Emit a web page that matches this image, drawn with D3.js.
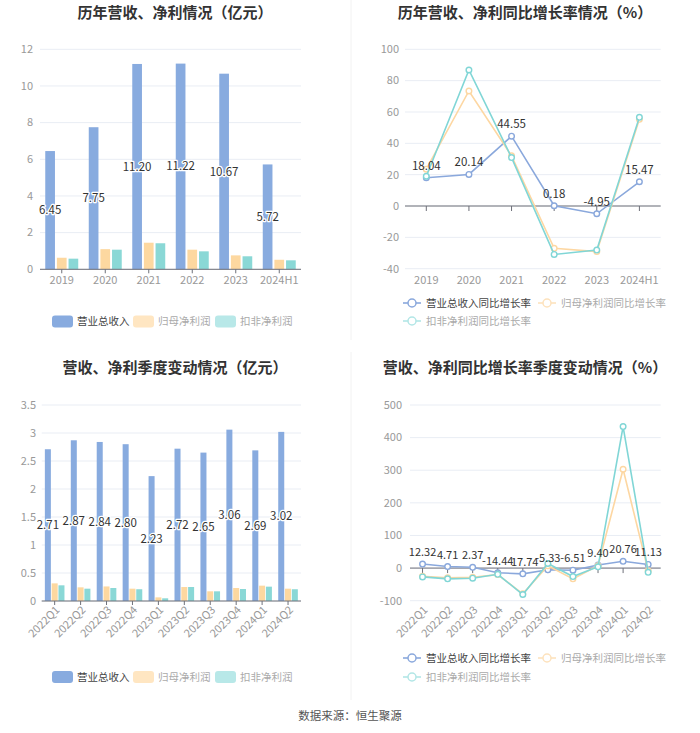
<!DOCTYPE html>
<html><head><meta charset="utf-8">
<script src="https://cdn.jsdelivr.net/npm/d3@7"></script>
<style>
html,body{margin:0;padding:0;background:#fff;}
svg{display:block;font-family:"Noto Sans CJK SC","Liberation Sans",sans-serif;}
</style></head>
<body>
<svg id="c" width="700" height="733"></svg>
<script>
// ---------- data ----------
const years = ["2019","2020","2021","2022","2023","2024H1"];
const revenue = [6.45,7.75,11.20,11.22,10.67,5.72];
const netProfit = [0.63,1.10,1.45,1.07,0.76,0.52];
const deductProfit = [0.58,1.07,1.42,0.98,0.71,0.49];
const yTicksA = [0,2,4,6,8,10,12];

const revGrowth = [18.04,20.14,44.55,0.18,-4.95,15.47];
const netGrowth = [23.5,73.4,32,-27,-29.1,55.3];
const deductGrowth = [19,86.8,30.9,-30.9,-28.1,56.6];
const yTicksB = [-40,-20,0,20,40,60,80,100];

const quarters = ["2022Q1","2022Q2","2022Q3","2022Q4","2023Q1","2023Q2","2023Q3","2023Q4","2024Q1","2024Q2"];
const qRevenue = [2.71,2.87,2.84,2.80,2.23,2.72,2.65,3.06,2.69,3.02];
const qNet = [0.315,0.244,0.26,0.22,0.065,0.25,0.173,0.232,0.274,0.22];
const qDeduct = [0.28,0.22,0.232,0.21,0.048,0.25,0.173,0.214,0.256,0.21];
const yTicksC = [0,0.5,1,1.5,2,2.5,3,3.5];

const qRevGrowth = [12.32,4.71,2.37,-14.44,-17.74,-5.33,-6.51,9.40,20.76,11.13];
const qNetGrowth = [-25,-30,-28,-20,-79,7,-33,7,303,-8];
const qDeductGrowth = [-27,-33,-31,-19,-81,14,-26,4,434,-13];
const yTicksD = [-100,0,100,200,300,400,500];

const barNames = ["营业总收入","归母净利润","扣非净利润"];
const lineNames = ["营业总收入同比增长率","归母净利润同比增长率","扣非净利润同比增长率"];
const titles = ["历年营收、净利情况（亿元）","历年营收、净利同比增长率情况（%）","营收、净利季度变动情况（亿元）","营收、净利同比增长率季度变动情况（%）"];
const source = "数据来源：恒生聚源";

// ---------- style ----------
const barColors = ["#88abdf","#fdd8a0","#8ad8d6"];
const lineColors = ["#8aa8dc","#fdd7a2","#80d6d6"];
const legBarColors = ["#88abdf","#ffe6c2","#b8e8e8"];
const legLineColors = ["#8aa8dc","#fde2bd","#b2e6e6"];
const legText = ["#444","#aaa","#aaa"];
const gridColor = "#e9edf4";
const tickText = "#999";
const fmtTick = t => String(t);
const fmtVal = v => v.toFixed(2);

const svg = d3.select("#c");

// dividers
svg.append("line").attr("x1",351).attr("x2",351).attr("y1",0).attr("y2",340).attr("stroke","#f2f2f2");
svg.append("line").attr("x1",351).attr("x2",351).attr("y1",352).attr("y2",700).attr("stroke","#f2f2f2");

// titles
[[175,18],[525,18],[175,373],[525,373]].forEach((p,i)=>{
  svg.append("text").attr("x",p[0]).attr("y",p[1]).attr("text-anchor","middle")
    .attr("font-size",15).attr("font-weight","bold").attr("fill","#333").text(titles[i]);
});
svg.append("text").attr("x",350).attr("y",720).attr("text-anchor","middle")
  .attr("font-size",11.5).attr("fill","#555").text(source);

function yGrid(g, y, ticks, x0, x1, labelX){
  ticks.forEach(t=>{
    g.append("line").attr("x1",x0).attr("x2",x1).attr("y1",y(t)).attr("y2",y(t)).attr("stroke",gridColor);
    g.append("text").attr("x",labelX).attr("y",y(t)).attr("dy","0.35em").attr("text-anchor","end")
      .attr("font-size",11).attr("fill",tickText).text(fmtTick(t));
  });
}

function xLabels(g, x, cats, yPos, rotate){
  cats.forEach(c=>{
    const cx = x(c)+x.bandwidth()/2;
    if(rotate){
      g.append("text").attr("transform",`translate(${cx+3},${yPos}) rotate(-45)`)
        .attr("text-anchor","end").attr("dy","0.35em").attr("font-size",11).attr("fill",tickText).text(c);
    } else {
      g.append("text").attr("x",cx).attr("y",yPos).attr("dy","0.35em").attr("text-anchor","middle")
        .attr("font-size",11).attr("fill",tickText).text(c);
    }
  });
}

function barChart(o){
  const g = svg.append("g");
  const x = d3.scaleBand().domain(o.cats).range([o.x0,o.x1]);
  const y = d3.scaleLinear().domain([0,o.max]).range([o.yb,o.yt]);
  yGrid(g,y,o.ticks,o.x0,o.x1,o.labelX);
  const bw = x.bandwidth()*o.bwr, step = bw*o.stepr;
  const series = o.series;
  const gw = bw + step*(series.length-1);
  series.forEach((s,si)=>{
    g.selectAll(null).data(s).enter().append("rect")
      .attr("x",(d,i)=>x(o.cats[i])+x.bandwidth()/2-gw/2+si*step)
      .attr("width",bw)
      .attr("y",d=>y(d)).attr("height",d=>y(0)-y(d))
      .attr("fill",barColors[si]);
  });
  g.append("line").attr("x1",o.x0).attr("x2",o.x1).attr("y1",y(0)).attr("y2",y(0)).attr("stroke","#6e7079");
  o.cats.forEach(c=>{
    const cx=x(c)+x.bandwidth()/2;
    g.append("line").attr("x1",cx).attr("x2",cx).attr("y1",y(0)).attr("y2",y(0)+4).attr("stroke","#6e7079");
  });
  series[0].forEach((d,i)=>{
    const cx = x(o.cats[i])+x.bandwidth()/2-gw/2+bw/2;
    g.append("text").attr("x",cx).attr("y",(y(d)+y(0))/2).attr("dy","0.35em").attr("text-anchor","middle")
      .attr("font-size",11.5).attr("fill","#333").attr("stroke","#fff").attr("stroke-width",2.5)
      .attr("paint-order","stroke").attr("stroke-linejoin","round").text(fmtVal(d));
  });
  xLabels(g,x,o.cats,o.xlY,o.rotate);
  o.legX.forEach((lx,i)=>{
    g.append("rect").attr("x",lx).attr("y",o.legY-6).attr("width",21).attr("height",12).attr("rx",3)
      .attr("fill",legBarColors[i]);
    g.append("text").attr("x",lx+25).attr("y",o.legY).attr("dy","0.35em").attr("font-size",10.5)
      .attr("fill",legText[i]).text(barNames[i]);
  });
}

function lineChart(o){
  const g = svg.append("g");
  const x = d3.scaleBand().domain(o.cats).range([o.x0,o.x1]);
  const y = d3.scaleLinear().domain([o.min,o.max]).range([o.yb,o.yt]);
  yGrid(g,y,o.ticks,o.x0,o.x1,o.labelX);
  g.append("line").attr("x1",o.x0).attr("x2",o.x1).attr("y1",y(0)).attr("y2",y(0)).attr("stroke","#6e7079");
  o.cats.forEach(c=>{
    const cx=x(c)+x.bandwidth()/2;
    g.append("line").attr("x1",cx).attr("x2",cx).attr("y1",y(0)).attr("y2",y(0)+5).attr("stroke","#6e7079");
  });
  const cxf = i=>x(o.cats[i])+x.bandwidth()/2;
  const line = d3.line().x((d,i)=>cxf(i)).y(d=>y(d));
  o.series.forEach((s,si)=>{
    g.append("path").attr("d",line(s)).attr("fill","none").attr("stroke",lineColors[si]).attr("stroke-width",1.6);
    s.forEach((d,i)=>{
      g.append("circle").attr("cx",cxf(i)).attr("cy",y(d)).attr("r",2.8).attr("fill","#fff")
        .attr("stroke",lineColors[si]).attr("stroke-width",1.4);
    });
  });
  o.series[0].forEach((d,i)=>{
    g.append("text").attr("x",cxf(i)).attr("y",y(d)-8).attr("text-anchor","middle")
      .attr("font-size",o.lblSize).attr("fill","#333").text(fmtVal(d));
  });
  xLabels(g,x,o.cats,o.xlY,o.rotate);
  o.leg.forEach((p,i)=>{
    const [lx,ly]=p;
    g.append("line").attr("x1",lx).attr("x2",lx+18).attr("y1",ly).attr("y2",ly)
      .attr("stroke",legLineColors[i]).attr("stroke-width",1.6);
    g.append("circle").attr("cx",lx+9).attr("cy",ly).attr("r",4).attr("fill","#fff")
      .attr("stroke",legLineColors[i]).attr("stroke-width",1.5);
    g.append("text").attr("x",lx+23).attr("y",ly).attr("dy","0.35em").attr("font-size",10.5)
      .attr("fill",legText[i]).text(lineNames[i]);
  });
}

barChart({cats:years,series:[revenue,netProfit,deductProfit],ticks:yTicksA,max:12,
  x0:40,x1:301,yt:49.3,yb:269.3,labelX:33,bwr:0.223,stepr:1.2,xlY:280,rotate:false,
  legX:[52,133,215],legY:321.5});

lineChart({cats:years,series:[revGrowth,netGrowth,deductGrowth],ticks:yTicksB,min:-40,max:100,
  x0:405,x1:660.7,yt:49.3,yb:268.7,labelX:399,xlY:280,rotate:false,lblSize:11.5,
  leg:[[403,303],[538,303],[403,321]]});

barChart({cats:quarters,series:[qRevenue,qNet,qDeduct],ticks:yTicksC,max:3.5,
  x0:41.7,x1:301,yt:405,yb:601,labelX:36,bwr:0.232,stepr:1.13,xlY:608,rotate:true,
  legX:[52,133,215],legY:677});

lineChart({cats:quarters,series:[qRevGrowth,qNetGrowth,qDeductGrowth],ticks:yTicksD,min:-100,max:500,
  x0:410,x1:660.7,yt:405,yb:600.7,labelX:402,xlY:608,rotate:true,lblSize:11,
  leg:[[403,658],[538,658],[403,677]]});
</script>
</body></html>
